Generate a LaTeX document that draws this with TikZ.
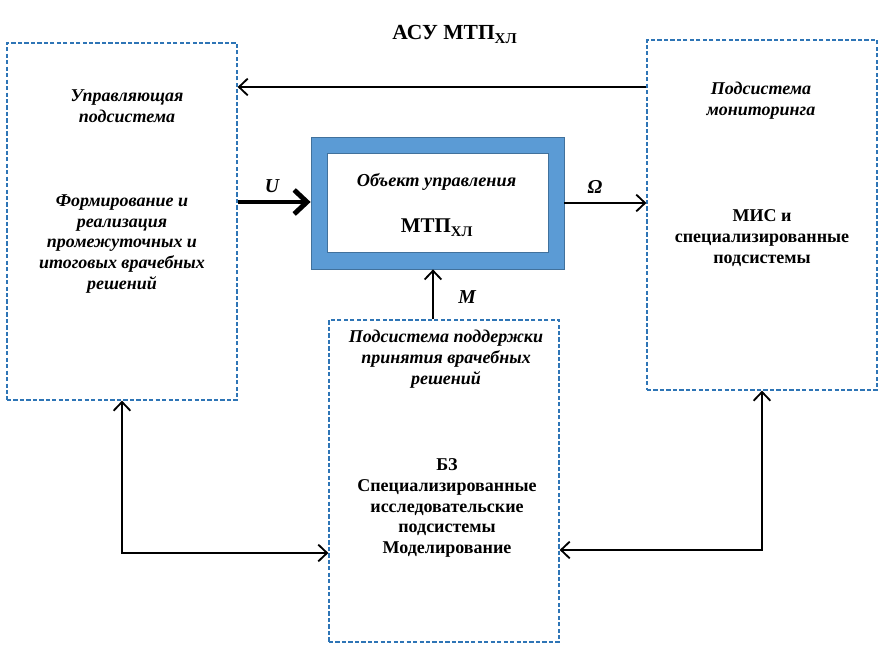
\documentclass[tikz,border=0pt]{standalone}
\usepackage{fontspec}
\setmainfont{Liberation Serif}
\usetikzlibrary{arrows.meta}
\definecolor{boxblue}{RGB}{46,117,182}
\definecolor{objblue}{RGB}{91,155,213}
\definecolor{objedge}{RGB}{65,113,156}
\tikzset{
  subsys/.style={draw=boxblue,line width=0.9pt,dash pattern=on 3pt off 1.6pt,minimum width=5.75cm,inner sep=0pt},
  objbox/.style={draw=objedge,line width=0.6pt,inner sep=0pt},
  head/.style={align=center,font=\fontsize{12.8}{14.9}\selectfont\bfseries\itshape},
  body/.style={align=center,font=\fontsize{12.8}{14.9}\selectfont\bfseries},
  biglabel/.style={align=center,font=\fontsize{14.9}{17}\selectfont\bfseries},
  sym/.style={inner sep=0pt,font=\fontsize{14}{16}\selectfont\bfseries\itshape},
  link/.style={line width=1.3pt,-{Straight Barb[length=2.2mm,width=4.2mm]}},
  twoway/.style={line width=1.3pt,{Straight Barb[length=2.2mm,width=4.2mm]}-{Straight Barb[length=2.2mm,width=4.2mm]}}
}
\begin{document}
\begin{tikzpicture}
\useasboundingbox (0,0) rectangle (22.15,16.55);

\node[subsys,minimum height=8.925cm] (ctrl) at (3.05,11.0125) {};
\node[subsys,minimum height=8.75cm] (mon) at (19.05,11.175) {};
\node[subsys,minimum height=8.05cm] (dss) at (11.1,4.525) {};
\node[objbox,fill=objblue,minimum width=6.325cm,minimum height=3.3cm] (obj) at (10.9375,11.475) {};
\node[objbox,fill=white,minimum width=5.525cm,minimum height=2.475cm] (objin) at (10.9375,11.4875) {};

\node[biglabel,anchor=base,font=\fontsize{15.3}{17}\selectfont\bfseries] (title) at (11.375,15.55) {АСУ МТП\textsubscript{ХЛ}};

\node[head] (ctrlhead) at (3.175,13.9) {Управляющая\\подсистема};
\node[head] (ctrltext) at (3.05,10.45) {Формирование и\\реализация\\промежуточных и\\итоговых врачебных\\решений};

\node[head] (monhead) at (19.025,14.025) {Подсистема\\мониторинга};
\node[body] (montext) at (19.05,10.6) {МИС и\\специализированные\\подсистемы};

\node[head] (dsshead) at (11.15,7.575) {Подсистема поддержки\\принятия врачебных\\решений};
\node[body] (dsstext) at (11.175,3.85) {БЗ\\Специализированные\\исследовательские\\подсистемы\\Моделирование};

\node[head,anchor=base,font=\fontsize{13}{15}\selectfont\bfseries\itshape] (objhead) at (10.9125,11.875) {Объект управления};
\node[biglabel,anchor=base] (objname) at (10.925,10.725) {МТП\textsubscript{ХЛ}};

\node[sym] (ulab) at (6.8,11.89) {U};
\node[sym] (wlab) at (14.875,11.875) {Ω};
\node[sym] (mlab) at (11.675,9.1125) {M};

\coordinate (fb) at (0,14.375);
\coordinate (uy) at (0,11.5);
\coordinate (wy) at (0,11.475);
\coordinate (mx) at (10.825,0);
\coordinate (ly) at (0,2.725);
\coordinate (ry) at (0,2.8);

\draw[link] (mon.west |- fb) -- (ctrl.east |- fb);
\draw[line width=3.5pt,-{Straight Barb[length=3.2mm,width=6mm]}] (ctrl.east |- uy) -- (obj.west |- uy);
\draw[link] (obj.east |- wy) -- (mon.west |- wy);
\draw[link] (dss.north -| mx) -- (obj.south -| mx);
\draw[twoway] (ctrl.south) |- (dss.west |- ly);
\draw[twoway] (mon.south) |- (dss.east |- ry);
\end{tikzpicture}
\end{document}
